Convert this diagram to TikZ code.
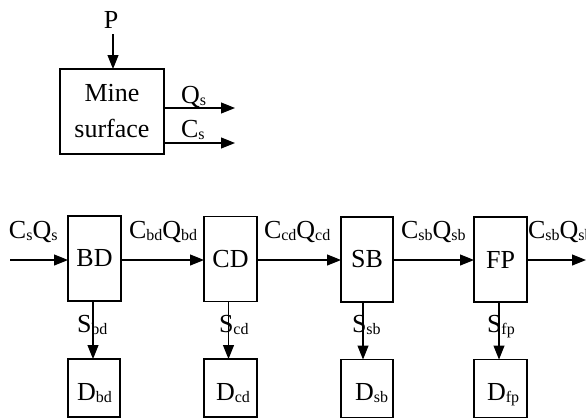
\documentclass[tikz,border=0pt]{standalone}
\usepackage{fontspec}
\setmainfont{Liberation Serif}
\usetikzlibrary{arrows.meta}
\newcommand\sbs[1]{\raisebox{-2pt}{\fontsize{16}{16}\selectfont #1}}
\begin{document}
\begin{tikzpicture}[x=1pt,y=-1pt,
  every node/.style={font=\fontsize{26}{36}\selectfont, inner sep=0pt, outer sep=0pt},
  box/.style={draw, line width=1.1pt, minimum width=53pt, minimum height=85pt, align=center},
  dbox/.style={draw, line width=1.1pt, minimum width=53pt, minimum height=58pt},
  lab/.style={anchor=base west},
  arr/.style={line width=1.1pt, -{Triangle[length=14pt,width=11pt]}},
  ln/.style={line width=1.1pt}]
\useasboundingbox (0,0) rectangle (586,418);
% top part
\node[box, minimum width=104pt, minimum height=85pt] (mine) at (112,111.5) {Mine\\surface};
\node[anchor=base] (P) at (111,28) {P};
\coordinate (ptop) at (113,34);
\draw[arr] (ptop) -- (ptop |- mine.north);
\coordinate (qend) at (235,108);
\coordinate (cend) at (235,143);
\draw[arr] (mine.east |- qend) -- (qend);
\draw[arr] (mine.east |- cend) -- (cend);
\node[lab] (Qs) at (181,103) {Q\sbs{s}};
\node[lab] (Cs) at (181,137) {C\sbs{s}};
% process chain
\node[box] (BD) at (94.5,258.5) {BD};
\node[box] (CD) at (230.5,259) {CD};
\node[box, minimum width=52pt] (SB) at (367,259.5) {SB};
\node[box] (FP) at (500.5,259.5) {FP};
\node[dbox, minimum width=52pt] (Dbd) at (94,388) {};
\node[dbox] (Dcd) at (230.5,388) {};
\node[dbox, minimum width=52pt] (Dsb) at (367,388.5) {};
\node[dbox] (Dfp) at (500.5,388.5) {};
\node[lab] (tDbd) at (77,400) {D\sbs{bd}};
\node[lab] (tDcd) at (216,400) {D\sbs{cd}};
\node[lab] (tDsb) at (355,400) {D\sbs{sb}};
\node[lab] (tDfp) at (487,400) {D\sbs{fp}};
\coordinate (in) at (10,260);
\coordinate (out) at (586,260);
\draw[arr] (in) -- (in -| BD.west);
\draw[arr] (BD.east |- in) -- (CD.west |- in);
\draw[arr] (CD.east |- in) -- (SB.west |- in);
\draw[arr] (SB.east |- in) -- (FP.west |- in);
\draw[arr] (FP.east |- in) -- (out);
\node[lab] (l1) at (9,238) {C\sbs{s}Q\sbs{s}};
\node[lab] (l2) at (129,238) {C\sbs{bd}Q\sbs{bd}};
\node[lab] (l3) at (264,238) {C\sbs{cd}Q\sbs{cd}};
\node[lab] (l4) at (401,238) {C\sbs{sb}Q\sbs{sb}};
\node[lab] (l5) at (528,238) {C\sbs{sb}Q\sbs{sb}};
\draw[arr] ([xshift=-1.5pt]BD.south) -- ([xshift=-1pt]Dbd.north);
\draw[arr] ([xshift=-2pt]CD.south) -- ([xshift=-2pt]Dcd.north);
\draw[arr] ([xshift=-4pt]SB.south) -- ([xshift=-4pt]Dsb.north);
\draw[arr] ([xshift=-1.5pt]FP.south) -- ([xshift=-1.5pt]Dfp.north);
\node[lab] (s1) at (77,332) {S\sbs{bd}};
\node[lab] (s2) at (219,332) {S\sbs{cd}};
\node[lab] (s3) at (352,332) {S\sbs{sb}};
\node[lab] (s4) at (487,332) {S\sbs{fp}};
\end{tikzpicture}
\end{document}
